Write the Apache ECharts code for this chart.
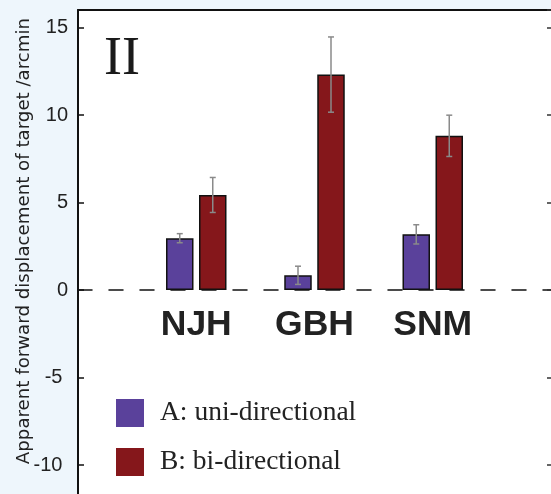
<!DOCTYPE html>
<html>
<head>
<meta charset="utf-8">
<script src="https://cdn.jsdelivr.net/npm/echarts@6/dist/echarts.min.js"></script>
<style>html,body{margin:0;padding:0;background:#eef6fc;}#c{width:551px;height:494px;}</style>
</head>
<body>
<div id="c"></div>
<script>
// ---- data ----
const categories = ['', 'NJH', 'GBH', 'SNM', ''];
const seriesNames = ['A: uni-directional', 'B: bi-directional'];
const valuesA = [null, 2.96, 0.84, 3.18, null];
const valuesB = [null, 5.43, 12.31, 8.81, null];
const errA = [null, 0.26, 0.52, 0.55, null];
const errB = [null, 1.0, 2.15, 1.18, null];
const yTicks = [-10, -5, 0, 5, 10, 15];

// ---- style / layout ----
const colA = '#5a419b';
const colB = '#85171b';
const barW = 27.5, barGapPx = 5.5;
const halfStep = (barW + barGapPx) / 2;
const yMin = -15, yMax = 16, pxPerUnit = 17.5;
const gridH = (yMax - yMin) * pxPerUnit;
const zeroOffset = -(0 - yMin) * pxPerUnit; // move category axis from grid bottom up to y = 0

function errData(vals, errs) {
  const out = [];
  vals.forEach((v, i) => { if (v != null) out.push([i, v - errs[i], v + errs[i]]); });
  return out;
}
function errRender(dx) {
  return function (params, api) {
    const lo = api.coord([api.value(0), api.value(1)]);
    const hi = api.coord([api.value(0), api.value(2)]);
    const x = lo[0] + dx, cap = 3;
    const st = { stroke: '#8a8a8a', lineWidth: 1.5 };
    return { type: 'group', children: [
      { type: 'line', shape: { x1: x, y1: lo[1], x2: x, y2: hi[1] }, style: st },
      { type: 'line', shape: { x1: x - cap, y1: lo[1], x2: x + cap, y2: lo[1] }, style: st },
      { type: 'line', shape: { x1: x - cap, y1: hi[1], x2: x + cap, y2: hi[1] }, style: st }
    ]};
  };
}

const chart = echarts.init(document.getElementById('c'));
const yCommon = {
  type: 'value', min: yMin, max: yMax, interval: 5,
  splitLine: { show: false }
};
chart.setOption({
  backgroundColor: '#eef6fc',
  animation: false,
  grid: { left: 78, right: 0, top: 10, height: gridH, show: true, backgroundColor: '#ffffff', borderWidth: 0,
          containLabel: false, outerBoundsMode: 'none' },
  legend: {
    orient: 'vertical', left: 111, top: 394,
    itemWidth: 28, itemHeight: 28, itemGap: 21,
    icon: 'rect',
    itemStyle: { borderWidth: 0 },
    textStyle: { fontFamily: 'Liberation Serif', fontSize: 27.5, color: '#222', padding: [0, 0, 0, 11] },
    data: seriesNames
  },
  xAxis: [{
    type: 'category', data: categories, boundaryGap: false, position: 'bottom', offset: zeroOffset,
    axisLine: { onZero: false, lineStyle: { color: '#111', width: 1.5, type: [14, 17] } },
    axisTick: { show: false },
    axisLabel: { margin: 17, fontFamily: 'Liberation Sans', fontWeight: 'bold', fontSize: 35.5, color: '#222' },
    splitLine: { show: false }
  }, {
    type: 'value', position: 'top', min: 0, max: 1,
    axisLine: { show: true, onZero: false, lineStyle: { color: '#111', width: 2 } },
    axisTick: { show: false }, axisLabel: { show: false }, splitLine: { show: false }
  }],
  yAxis: [Object.assign({}, yCommon, {
    position: 'left',
    axisLine: { show: true, onZero: false, lineStyle: { color: '#111', width: 2 } },
    axisTick: { show: true, inside: true, length: 6, lineStyle: { color: '#111', width: 1.5 } },
    axisLabel: {
      margin: 10, fontFamily: 'Liberation Sans', fontSize: 20, color: '#222',
      formatter: v => (yTicks.indexOf(v) < 0 ? '' : (v < 0 ? v + ' ' : String(v)))
    }
  }), Object.assign({}, yCommon, {
    position: 'right',
    axisLine: { show: false, onZero: false },
    axisTick: { show: true, inside: true, length: 4, lineStyle: { color: '#333', width: 1.5 } },
    axisLabel: { show: false }
  })],
  graphic: [
    { type: 'text', x: 24, y: 241, rotation: Math.PI / 2,
      style: { text: 'Apparent forward displacement of target /arcmin', fontFamily: 'DejaVu Sans', fontSize: 18.2,
               fill: '#222', align: 'center', verticalAlign: 'middle' } },
    { type: 'text', x: 104, y: 33,
      style: { text: 'II', fontFamily: 'Liberation Serif', fontSize: 54, fill: '#1a1a1a', align: 'left', verticalAlign: 'top' } }
  ],
  series: [
    { name: seriesNames[0], type: 'bar', data: valuesA, barWidth: barW, barGap: (barGapPx / barW * 100) + '%',
      itemStyle: { color: colA, borderColor: '#111', borderWidth: 1.5 }, z: 3 },
    { name: seriesNames[1], type: 'bar', data: valuesB, barWidth: barW,
      itemStyle: { color: colB, borderColor: '#111', borderWidth: 1.5 }, z: 3 },
    { type: 'custom', data: errData(valuesA, errA), renderItem: errRender(-halfStep), z: 5, silent: true },
    { type: 'custom', data: errData(valuesB, errB), renderItem: errRender(halfStep), z: 5, silent: true }
  ]
});
</script>
</body>
</html>
